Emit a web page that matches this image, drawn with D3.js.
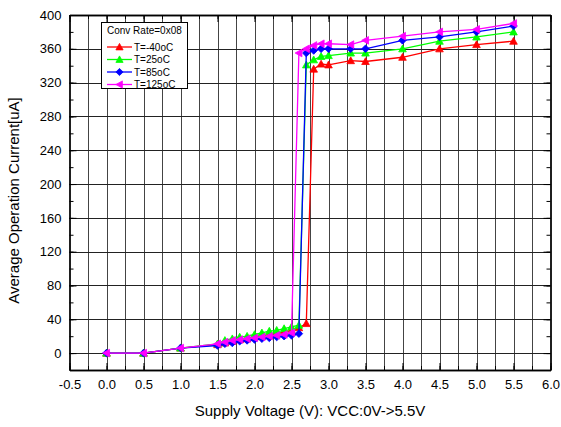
<!DOCTYPE html>
<html>
<head>
<meta charset="utf-8">
<script src="https://cdn.jsdelivr.net/npm/d3@7"></script>
<style>
body { margin: 0; background: #fff; }
svg text { font-family: Arial, "Liberation Sans", sans-serif; }
</style>
</head>
<body>
<div id="chart"></div>
<script>
// supply voltage steps, shared by all four temperatures
var volts = [0, 0.5, 1.0, 1.5, 1.6, 1.7, 1.8, 1.9, 2.0, 2.1, 2.2, 2.3, 2.4, 2.5, 2.6, 2.7, 2.8, 2.9, 3.0, 3.3, 3.5, 4.0, 4.5, 5.0, 5.5];
var seriesNames = ['T=-40oC', 'T=25oC', 'T=85oC', 'T=125oC'];
var currM40 = [0, 0, 6, 10, 12, 14, 16, 17, 19, 20, 22, 23, 25, 27, 30, 35, 336, 342, 341, 346, 345, 350, 360, 365, 369];
var curr25 = [0, 0, 6, 11, 15, 17, 19, 20, 22, 24, 26, 27, 29, 31, 33, 341, 347, 351, 352, 355, 355, 360, 369, 374, 380];
var curr85 = [0, 0, 6, 9, 11, 12, 14, 15, 16, 17, 18, 19, 20, 21, 23, 355, 358, 360, 360, 360, 360, 370, 374, 380, 387];
var curr125 = [0, 0, 6, 11, 13, 15, 16, 17, 18, 19, 20, 21, 22, 24, 355, 360, 364, 366, 366, 365, 370, 375, 380, 383, 390];
var xTicks = [-0.5, 0.0, 0.5, 1.0, 1.5, 2.0, 2.5, 3.0, 3.5, 4.0, 4.5, 5.0, 5.5, 6.0];
var yTicks = [0, 40, 80, 120, 160, 200, 240, 280, 320, 360, 400];

var colors = ['#ff0000', '#00ff00', '#0000ff', '#ff00ff'];
var markers = ['up', 'up', 'diamond', 'left'];
var allCurr = [currM40, curr25, curr85, curr125];

var width = 561, height = 427;
// plot box edges (note: "top" is a reserved window property)
var pLeft = 69.5, pRight = 550.5, pTop = 15, pBottom = 370;

var svg = d3.select('#chart').append('svg')
	.attr('width', width)
	.attr('height', height);

var x = d3.scaleLinear().domain([-0.5, 6.0]).range([pLeft, pRight]);
var y = d3.scaleLinear().domain([-20, 400]).range([pBottom, pTop]);

// grid: vertical every 0.25, horizontal on major ticks only
var xMinor = d3.range(-0.5, 6.001, 0.25);
var yMinor = d3.range(-20, 400.1, 20);

svg.append('g').selectAll('line')
	.data(xMinor.slice(1, -1))
	.enter().append('line')
	.attr('x1', function(d) { return Math.round(x(d)) + 0.5; })
	.attr('x2', function(d) { return Math.round(x(d)) + 0.5; })
	.attr('y1', pTop).attr('y2', pBottom)
	.attr('stroke', '#444').attr('stroke-width', 1);

svg.append('g').selectAll('line')
	.data(yTicks.slice(0, -1))
	.enter().append('line')
	.attr('y1', function(d) { return Math.round(y(d)) + 0.5; })
	.attr('y2', function(d) { return Math.round(y(d)) + 0.5; })
	.attr('x1', pLeft).attr('x2', pRight)
	.attr('stroke', '#222').attr('stroke-width', 1);

// plain hyphen minus like the original
var fmtX = function(d) { return d3.format('.1f')(d).replace('\u2212', '-'); };

// axes with inward ticks, mirrored on top and right
var xAxis = d3.axisBottom(x).tickValues(xTicks).tickFormat(fmtX).tickSizeInner(-7).tickSizeOuter(0).tickPadding(10);
var xAxisMinor = d3.axisBottom(x).tickValues(xMinor).tickFormat('').tickSizeInner(-4).tickSizeOuter(0);
var yAxis = d3.axisLeft(y).tickValues(yTicks).tickFormat(d3.format('d')).tickSizeInner(-7).tickSizeOuter(0).tickPadding(8);
var yAxisMinor = d3.axisLeft(y).tickValues(yMinor).tickFormat('').tickSizeInner(-4).tickSizeOuter(0);

function styleAxis(g) {
	g.selectAll('path').attr('stroke', '#000').attr('stroke-width', 1.3);
	g.selectAll('line').attr('stroke', '#000');
	g.selectAll('text').style('font-size', '13px').attr('fill', '#000');
}

svg.append('g').attr('transform', 'translate(0,' + pBottom + ')').call(xAxis).call(styleAxis);
svg.append('g').attr('transform', 'translate(0,' + pBottom + ')').call(xAxisMinor).call(styleAxis);
svg.append('g').attr('transform', 'translate(0,' + pTop + ')').call(d3.axisTop(x).tickValues(xTicks).tickFormat('').tickSizeInner(-7).tickSizeOuter(0)).call(styleAxis);
svg.append('g').attr('transform', 'translate(0,' + pTop + ')').call(d3.axisTop(x).tickValues(xMinor).tickFormat('').tickSizeInner(-4).tickSizeOuter(0)).call(styleAxis);
svg.append('g').attr('transform', 'translate(' + pLeft + ',0)').call(yAxis).call(styleAxis);
svg.append('g').attr('transform', 'translate(' + pLeft + ',0)').call(yAxisMinor).call(styleAxis);
svg.append('g').attr('transform', 'translate(' + pRight + ',0)').call(d3.axisRight(y).tickValues(yTicks).tickFormat('').tickSizeInner(-7).tickSizeOuter(0)).call(styleAxis);
svg.append('g').attr('transform', 'translate(' + pRight + ',0)').call(d3.axisRight(y).tickValues(yMinor).tickFormat('').tickSizeInner(-4).tickSizeOuter(0)).call(styleAxis);

// marker shapes
function markerPath(kind, s) {
	if (kind === 'up') return 'M0,' + (-s) + 'L' + s + ',' + (s * 0.8) + 'L' + (-s) + ',' + (s * 0.8) + 'Z';
	if (kind === 'diamond') return 'M0,' + (-s) + 'L' + s + ',0L0,' + s + 'L' + (-s) + ',0Z';
	return 'M' + (-s) + ',0L' + (s * 0.8) + ',' + (-s) + 'L' + (s * 0.8) + ',' + s + 'Z';
}

var line = d3.line()
	.x(function(d) { return x(d[0]); })
	.y(function(d) { return y(d[1]); });

allCurr.forEach(function(curr, k) {
	var pts = volts.map(function(v, i) { return [v, curr[i]]; });
	var g = svg.append('g');
	g.append('path')
		.attr('d', line(pts))
		.attr('fill', 'none')
		.attr('stroke', colors[k])
		.attr('stroke-width', 1.3);
	g.selectAll('path.mk')
		.data(pts)
		.enter().append('path')
		.attr('class', 'mk')
		.attr('d', markerPath(markers[k], 3.8))
		.attr('transform', function(d) { return 'translate(' + x(d[0]) + ',' + y(d[1]) + ')'; })
		.attr('fill', colors[k])
		.attr('stroke', colors[k])
		.attr('stroke-width', 0.8);
});

// legend box
var lg = svg.append('g').attr('transform', 'translate(101,22)');
lg.append('rect')
	.attr('x', 0.5).attr('y', 0.5)
	.attr('width', 86).attr('height', 66)
	.attr('fill', '#fff').attr('stroke', '#000').attr('stroke-width', 1);
lg.append('text')
	.attr('x', 6).attr('y', 12)
	.style('font-size', '10px')
	.text('Conv Rate=0x08');
seriesNames.forEach(function(name, k) {
	var yy = 25 + k * 12.5;
	lg.append('line')
		.attr('x1', 6).attr('x2', 31)
		.attr('y1', yy).attr('y2', yy)
		.attr('stroke', colors[k]).attr('stroke-width', 1.3);
	lg.append('path')
		.attr('d', markerPath(markers[k], 3.6))
		.attr('transform', 'translate(18.5,' + yy + ')')
		.attr('fill', colors[k]).attr('stroke', colors[k]).attr('stroke-width', 0.8);
	lg.append('text')
		.attr('x', 33).attr('y', yy + 3.5)
		.style('font-size', '10px')
		.text(name);
});

// axis titles
svg.append('text')
	.attr('x', (pLeft + pRight) / 2).attr('y', 416)
	.attr('text-anchor', 'middle')
	.style('font-size', '15px')
	.text('Supply Voltage (V): VCC:0V->5.5V');
svg.append('text')
	.attr('transform', 'translate(19,' + ((pTop + pBottom) / 2 + 8) + ') rotate(-90)')
	.attr('text-anchor', 'middle')
	.style('font-size', '15px')
	.text('Average Operation Current[uA]');
</script>
</body>
</html>
